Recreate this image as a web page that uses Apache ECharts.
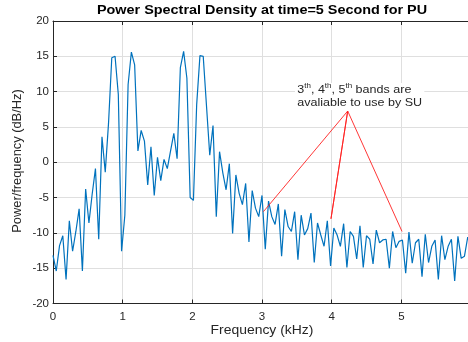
<!DOCTYPE html>
<html>
<head>
<meta charset="utf-8">
<script src="https://cdn.jsdelivr.net/npm/echarts@6/dist/echarts.min.js"></script>
<style>
html,body{margin:0;padding:0;background:#fff;}
#c{width:468px;height:342px;}
</style>
</head>
<body>
<div id="c"></div>
<script>
// Frequency bins: 129 points from 0 to 6 kHz
const freqMax = 6;
const nBins = 129;
const psd = [
  -13.2, -15.4, -11.8, -10.4, -16.6, -8.3, -12.6, -9.8, -6.6, -15.4,
  -3.8, -8.6, -4.5, -0.9, -10.9, 3.6, -1.4, 5.5, 14.8, 15.0,
  9.6, -12.6, -7.5, 11.0, 15.6, 13.8, 1.6, 4.5, 3.0, -3.2,
  2.2, -4.7, 0.7, -2.6, 0.4, -0.9, 1.6, 4.1, 0.5, 13.4,
  15.7, 11.9, -5.0, -5.4, 8.2, 15.1, 15.0, 8.0, 1.0, 5.2,
  -7.7, 1.5, -1.5, -3.9, -0.2, -10.1, -1.8, -4.4, -6.0, -3.0,
  -11.3, -4.0, -6.5, -7.7, -4.7, -12.3, -5.5, -7.7, -8.8, -5.9,
  -13.3, -6.7, -9.1, -9.8, -7.0, -13.8, -7.5, -10.3, -9.4, -7.2,
  -14.2, -8.6, -10.3, -11.9, -8.3, -14.7, -9.3, -10.3, -11.9, -8.7,
  -14.9, -9.8, -10.5, -13.7, -9.0, -14.9, -10.4, -10.9, -14.4, -9.6,
  -11.4, -11.0, -10.9, -15.0, -9.8, -12.1, -11.2, -11.0, -15.7, -9.9,
  -14.3, -11.4, -10.9, -16.2, -10.2, -14.2, -11.9, -11.0, -16.6, -10.4,
  -13.8, -11.9, -10.9, -16.8, -10.5, -13.6, -13.3, -10.6, -12.0
];
// Annotation arrow polyline (data coords): end1 -> apex -> end2 -> apex -> end3
const arrowX = [3.02, 4.23, 3.99, 4.23, 5.01];
const arrowY = [-7.0, 7.25, -8.0, 7.25, -9.8];

const titleText = 'Power Spectral Density at time=5 Second for PU';
const xName = 'Frequency (kHz)';
const yName = 'Power/frequency (dB/Hz)';
const noteText = '3{sup|th}, 4{sup|th}, 5{sup|th} bands are\navaliable to use by SU';

const seriesData = psd.map((v, i) => [i * freqMax / (nBins - 1), v]);
const arrowData = arrowX.map((x, i) => [x, arrowY[i]]);

const FONT = '"Liberation Sans", Arial, Helvetica, sans-serif';
const AX = '#262626';

const chart = echarts.init(document.getElementById('c'), null, {renderer: 'canvas'});
chart.setOption({
  animation: false,
  backgroundColor: '#ffffff',
  grid: {left: 53, top: 21, width: 418, height: 282.5, containLabel: false, outerBoundsMode: 'none'},
  xAxis: [{
    type: 'value', min: 0, max: 6, interval: 1,
    axisLine: {show: true, onZero: false, lineStyle: {color: AX, width: 1}},
    axisTick: {show: true, inside: true, length: 4, lineStyle: {color: AX}},
    axisLabel: {fontFamily: FONT, fontSize: 11.5, color: AX, margin: 7},
    splitLine: {show: true, lineStyle: {color: '#dfdfdf', width: 1}}
  }, {
    type: 'value', position: 'top', min: 0, max: 6, interval: 1,
    axisLine: {show: true, onZero: false, lineStyle: {color: AX, width: 1}},
    axisTick: {show: true, inside: true, length: 4, lineStyle: {color: AX}},
    axisLabel: {show: false}, splitLine: {show: false}
  }],
  yAxis: [{
    type: 'value', min: -20, max: 20, interval: 5,
    axisLine: {show: true, onZero: false, lineStyle: {color: AX, width: 1}},
    axisTick: {show: true, inside: true, length: 4, lineStyle: {color: AX}},
    axisLabel: {fontFamily: FONT, fontSize: 11.5, color: AX, margin: 4},
    splitLine: {show: true, lineStyle: {color: '#dfdfdf', width: 1}}
  }],
  series: [{
    type: 'line', data: seriesData, symbol: 'none', smooth: false,
    lineStyle: {color: '#0072BD', width: 1.2}, z: 3
  }, {
    type: 'line', data: arrowData, symbol: 'none', smooth: false,
    lineStyle: {color: '#ff2020', width: 0.9}, z: 4
  }],
  graphic: [{
    type: 'text', x: 262, y: 11, z: 10, scaleX: 1.2,
    style: {text: titleText, font: 'bold 12px ' + FONT, fill: '#000', align: 'center', verticalAlign: 'middle'}
  }, {
    type: 'text', x: 262, y: 331, z: 10, scaleX: 1.16,
    style: {text: xName, font: '12px ' + FONT, fill: AX, align: 'center', verticalAlign: 'middle'}
  }, {
    type: 'text', x: 17.5, y: 161, z: 10, rotation: Math.PI / 2, scaleX: 1.07,
    style: {text: yName, font: '12px ' + FONT, fill: AX, align: 'center', verticalAlign: 'middle'}
  }, {
    type: 'text', x: 295, y: 83, z: 10, scaleX: 1.14,
    style: {
      text: noteText, font: '11px ' + FONT, fontSize: 11, fontFamily: FONT, fill: '#262626',
      align: 'left', verticalAlign: 'top', lineHeight: 13.5,
      backgroundColor: '#ffffff', padding: [0, 2],
      rich: {sup: {fontSize: 7, fontFamily: FONT, fill: '#262626', verticalAlign: 'top', lineHeight: 13.5}}
    }
  }]
});
</script>
</body>
</html>
